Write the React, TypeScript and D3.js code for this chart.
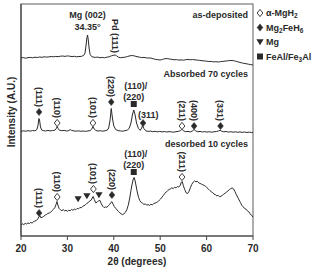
import React from 'react';
import * as d3 from 'd3';

// XRD patterns, [2theta, intensity A.U.]
const asDeposited: [number, number][] = [
  [20, 178], [20.5, 178.4], [21, 177.8], [21.5, 178.3], [22, 178.6], [22.5, 178.2], [23, 178.8], [23.5, 178.5],
  [24, 179], [24.5, 178.7], [25, 179.2], [25.5, 178.9], [26, 179.1], [26.5, 179.5], [27, 179.2], [27.5, 179.6],
  [28, 179.3], [28.5, 179.8], [29, 180], [29.5, 179.6], [30, 180.1], [30.5, 179.8], [31, 179.4], [31.5, 179.7],
  [32, 179.2], [32.5, 179.5], [33, 179.6], [33.5, 180.5], [33.8, 183], [34.0, 190], [34.2, 198], [34.35, 201],
  [34.5, 196], [34.7, 187], [34.9, 181.5], [35.2, 179.5], [35.5, 179], [36, 178.6], [36.5, 178.9], [37, 178.3],
  [37.5, 178.6], [38, 178.2], [38.5, 178.8], [39, 179.2], [39.5, 180.2], [40, 180.8], [40.3, 181], [40.6, 180.2],
  [41, 178.8], [41.5, 178.3], [42, 178.6], [42.5, 178.9], [43, 179.6], [43.5, 180.2], [44, 180.5], [44.5, 180],
  [45, 179.3], [45.5, 178.9], [46, 178.4], [46.5, 178.6], [47, 178.1], [47.5, 178], [48, 178], [48.5, 177.2],
  [49, 176.6], [49.5, 176.3], [50, 176], [50.5, 176.6], [51, 177.3], [51.5, 177.4], [52, 177], [52.5, 176.6],
  [53, 176.2], [53.5, 176.4], [54, 175.9], [54.5, 176.1], [55, 175.8], [55.5, 176.3], [56, 176.6], [56.5, 176.2],
  [57, 176.5], [57.5, 176.1], [58, 175.9], [58.5, 175.6], [59, 175.3], [59.5, 175.1], [60, 174.8], [60.5, 174.5],
  [61, 174.6], [61.5, 174.1], [62, 174.3], [62.5, 174], [63, 174.4], [63.5, 174.6], [64, 174.9], [64.5, 175.2],
  [65, 175.4], [65.5, 175.6], [66, 175.1], [66.5, 174.5], [67, 173.8], [67.5, 173.2], [68, 172.7], [68.5, 172.3],
  [69, 171.8], [69.5, 171.4], [70, 171],
];

const absorbed70: [number, number][] = [
  [20, 104.6], [20.5, 105.2], [21, 104.8], [21.5, 105.3], [22, 104.9], [22.5, 105.5], [23, 105.2], [23.4, 106.3],
  [23.65, 110], [23.85, 117.5], [24.0, 116], [24.2, 109], [24.45, 106], [24.8, 105.4], [25.3, 105], [25.8, 105.6],
  [26.3, 105.1], [26.8, 105.4], [27.3, 105.8], [27.6, 107.5], [27.8, 109.5], [28.0, 107.6], [28.3, 105.7], [28.8, 105.3],
  [29.3, 105.6], [29.8, 105], [30.3, 105.4], [30.6, 106.4], [30.9, 105.6], [31.4, 105.1], [31.9, 104.8], [32.4, 105.2],
  [32.9, 104.7], [33.4, 105], [33.9, 104.6], [34.4, 105.1], [34.9, 105.4], [35.2, 106.6], [35.5, 109.3], [35.8, 107],
  [36.1, 105.5], [36.6, 105], [37.1, 105.3], [37.6, 104.8], [38.1, 105.2], [38.6, 105.9], [38.9, 108], [39.2, 116],
  [39.45, 127.5], [39.7, 118], [40.0, 110], [40.4, 106.5], [40.9, 105.4], [41.4, 105.1], [41.9, 104.8], [42.4, 105.3],
  [42.9, 105.9], [43.3, 107.5], [43.7, 113], [44.0, 121], [44.3, 126], [44.6, 121], [44.9, 113], [45.3, 107.5],
  [45.7, 105.6], [46.0, 108], [46.2, 110.5], [46.5, 107.3], [46.9, 105.2], [47.4, 104.6], [47.9, 104.9], [48.4, 104.3],
  [48.9, 104.7], [49.4, 104.2], [49.9, 104.6], [50.4, 104.1], [50.9, 104.5], [51.4, 104], [51.9, 104.4], [52.4, 104.1],
  [52.9, 103.8], [53.4, 104.3], [53.9, 104.6], [54.4, 105.4], [54.7, 106.8], [55.0, 105.2], [55.5, 104.3], [56, 104.6],
  [56.5, 104.1], [57.0, 105.2], [57.3, 106.5], [57.6, 105.3], [58.1, 104.2], [58.6, 104.6], [59.1, 104], [59.6, 104.4],
  [60.1, 103.9], [60.6, 104.3], [61.1, 103.8], [61.6, 104.2], [62.1, 104.5], [62.6, 105.1], [62.9, 105.8], [63.2, 104.9],
  [63.7, 104.2], [64.2, 104.5], [64.7, 103.9], [65.2, 104.3], [65.7, 103.8], [66.2, 104.2], [66.7, 103.7], [67.2, 104.1],
  [67.7, 103.6], [68.2, 104], [68.7, 103.5], [69.2, 103.9], [69.7, 103.4], [70, 103.8],
];

const desorbed10: [number, number][] = [
  [20.0, 11], [20.3, 12.2], [20.6, 11.4], [20.9, 12.6], [21.2, 12], [21.5, 13.1], [21.8, 12.4], [22.1, 13.6],
  [22.4, 13], [22.7, 14.3], [23.0, 14.9], [23.3, 15.6], [23.6, 16.8], [23.9, 19.5], [24.1, 20.4], [24.3, 18.2],
  [24.6, 18.8], [24.9, 19.6], [25.2, 20.9], [25.5, 21.5], [25.8, 22.6], [26.1, 22.9], [26.4, 23.8], [26.7, 25.4],
  [27.0, 26.7], [27.3, 28.4], [27.55, 31.5], [27.75, 34.5], [27.95, 31], [28.2, 27.6], [28.5, 26.2], [28.8, 25.3],
  [29.1, 26.4], [29.4, 25.1], [29.7, 25.8], [30.0, 24.6], [30.3, 25.9], [30.6, 25.2], [30.9, 26.6], [31.2, 25.7],
  [31.5, 26.9], [31.8, 26.2], [32.1, 27.6], [32.4, 27.1], [32.7, 28.6], [33.0, 28.2], [33.3, 29.7], [33.6, 30.4],
  [33.9, 31.2], [34.2, 32.6], [34.5, 33.4], [34.8, 35.1], [35.1, 35.8], [35.35, 38], [35.55, 39.5], [35.8, 36.5],
  [36.1, 33.2], [36.4, 33.8], [36.7, 35.2], [37.0, 35.6], [37.3, 32.4], [37.6, 29.8], [37.9, 28.4], [38.2, 29.1],
  [38.5, 28.6], [38.8, 30.2], [39.1, 31.5], [39.4, 33.6], [39.6, 34.3], [39.85, 31.8], [40.1, 29.5], [40.4, 27.8],
  [40.7, 26.1], [41.0, 24.5], [41.3, 23.2], [41.6, 22.1], [41.9, 21.4], [42.2, 22.3], [42.5, 23.6], [42.8, 26.2],
  [43.1, 30.5], [43.4, 37], [43.7, 45.5], [43.95, 52], [44.2, 57], [44.4, 58.5], [44.6, 55], [44.85, 49],
  [45.1, 43], [45.35, 38.5], [45.6, 35.4], [45.9, 33.6], [46.2, 32.8], [46.5, 31.5], [46.8, 32.2], [47.1, 30.8],
  [47.4, 31.4], [47.7, 30.6], [48.0, 31.7], [48.3, 31.1], [48.6, 32.4], [48.9, 32.9], [49.2, 33.5], [49.5, 34.3],
  [49.8, 35.8], [50.1, 37.1], [50.4, 38.9], [50.7, 40.6], [51.0, 42.7], [51.3, 44.1], [51.6, 45.2], [51.9, 46.5],
  [52.2, 47.1], [52.5, 48.2], [52.8, 47.4], [53.1, 48.8], [53.4, 48.1], [53.7, 49.5], [54.0, 48.9], [54.3, 50.6],
  [54.55, 53.8], [54.75, 54.5], [55.0, 50.2], [55.3, 46.3], [55.6, 43.1], [55.9, 42.4], [56.2, 44.6], [56.5, 48.2],
  [56.8, 51.6], [57.1, 53.8], [57.4, 55.1], [57.7, 54.2], [58.0, 54.8], [58.3, 53.1], [58.6, 52.6], [58.9, 51.8],
  [59.2, 51.2], [59.5, 50.5], [59.8, 49.7], [60.1, 48.2], [60.4, 46.9], [60.7, 45.5], [61.0, 44.2], [61.3, 43.5],
  [61.6, 41.8], [61.9, 41.3], [62.2, 40.1], [62.5, 40.7], [62.8, 39.2], [63.1, 39.8], [63.4, 40.6], [63.7, 41.9],
  [64.0, 42.8], [64.3, 43.9], [64.6, 45.1], [64.9, 46.3], [65.2, 47.4], [65.5, 48.1], [65.8, 47.2], [66.1, 44.6],
  [66.4, 41.5], [66.7, 38.7], [67.0, 36.1], [67.3, 33.4], [67.6, 30.6], [67.9, 29.2], [68.2, 27.5], [68.5, 26.8],
  [68.8, 25.1], [69.1, 24.2], [69.4, 22.1], [69.7, 20.6], [70.0, 18.9],
];

// peak markers: phase = od (a-MgH2), fd (Mg2FeH6), tri (Mg), sq (FeAl/Fe3Al)
const absorbedPeaks = ['(111)', '(110)', '(101)', '(220)', '(110)/(220)', '(311)', '(211)', '(400)', '(331)'];
const absorbedAngles = [23.9, 27.8, 35.5, 39.45, 44.3, 46.3, 54.7, 57.3, 63.0];
const absorbedMarkI = [124, 113, 113, 134, 132, 113, 110, 110, 110];
const absorbedPhase = ['fd', 'od', 'od', 'fd', 'sq', 'fd', 'od', 'fd', 'fd'];

const desorbedPeaks = ['(111)', '(110)', '', '', '(101)', '', '(220)', '(110)/(220)', '(211)'];
const desorbedAngles = [23.9, 27.8, 32.3, 34.2, 35.6, 36.8, 39.6, 44.3, 54.7];
const desorbedMarkI = [23, 39, 37, 40, 47, 41, 41, 64, 59];
const desorbedPhase = ['fd', 'od', 'tri', 'tri', 'od', 'tri', 'fd', 'sq', 'od'];

const xTicks = [20, 30, 40, 50, 60, 70];

const W = 313, H = 267;
const FONT = '"Liberation Sans", Arial, sans-serif';
const INK = '#2a2a2a';

const x = d3.scaleLinear().domain([20, 70]).range([21, 253]);
const y = d3.scaleLinear().domain([0, 232]).range([236, 4]);
const lineGen = d3.line<[number, number]>().x(d => x(d[0])).y(d => y(d[1]));

function Marker({ kind, cx, cy }: { kind: string; cx: number; cy: number }) {
  if (kind === 'od' || kind === 'fd') {
    const r = 3.6;
    return (
      <path d={`M${cx},${cy - r}L${cx + r * 0.8},${cy}L${cx},${cy + r}L${cx - r * 0.8},${cy}Z`}
        fill={kind === 'od' ? '#fff' : INK} stroke={INK} strokeWidth={kind === 'od' ? 0.9 : 0.5} />
    );
  }
  if (kind === 'tri') {
    return <path d={`M${cx - 3.6},${cy - 2.8}L${cx + 3.6},${cy - 2.8}L${cx},${cy + 3.2}Z`} fill={INK} />;
  }
  return <rect x={cx - 3} y={cy - 3} width={6} height={6} fill={INK} />;
}

function PeakLabels({ labels, angles, marks, phases }: { labels: string[]; angles: number[]; marks: number[]; phases: string[] }) {
  return (
    <g>
      {labels.map((lab, i) => {
        const cx = x(angles[i]);
        const cy = y(marks[i]);
        let text: React.ReactNode = null;
        if (lab.includes('/')) {
          const [a, b] = lab.split('/');
          text = (
            <g textAnchor="middle">
              <text x={cx + 2} y={cy - 15.5}>{a + '/'}</text>
              <text x={cx} y={cy - 4.5}>{b}</text>
            </g>
          );
        } else if (lab === '(311)') {
          text = <text x={cx - 5} y={cy - 5}>{lab}</text>;
        } else if (lab) {
          text = (
            <text transform={`translate(${cx},${cy - 5}) rotate(90)`} textAnchor="end" dy="0.35em">{lab}</text>
          );
        }
        return (
          <g key={i}>
            {text}
            <Marker kind={phases[i]} cx={cx} cy={cy} />
          </g>
        );
      })}
    </g>
  );
}

export default function App() {
  const legend = [
    { kind: 'od', label: <tspan>α-MgH<tspan fontSize="6.5" dy="2">2</tspan></tspan> },
    { kind: 'fd', label: <tspan>Mg<tspan fontSize="6.5" dy="2">2</tspan><tspan dy="-2">FeH</tspan><tspan fontSize="6.5" dy="2">6</tspan></tspan> },
    { kind: 'tri', label: <tspan>Mg</tspan> },
    { kind: 'sq', label: <tspan>FeAl/Fe<tspan fontSize="6.5" dy="2">3</tspan><tspan dy="-2">Al</tspan></tspan> },
  ];
  return (
    <svg width={W} height={H} style={{ position: 'absolute', left: 0, top: 0, background: '#fff' }}
      fontFamily={FONT} fontWeight="bold" fontSize={9} fill={INK}>
      {/* frame */}
      <rect x={21} y={4} width={232} height={232} fill="none" stroke="#777" strokeWidth={1.2} />
      <line x1={21} y1={4} x2={21} y2={236} stroke="#444" strokeWidth={1.2} />
      <line x1={21} y1={236} x2={253} y2={236} stroke="#444" strokeWidth={1.2} />

      {/* x axis */}
      {xTicks.map(t => (
        <g key={t}>
          <line x1={x(t)} x2={x(t)} y1={236} y2={240} stroke="#444" strokeWidth={1} />
          <text x={x(t)} y={252} textAnchor="middle" fontSize={10}>{t}</text>
        </g>
      ))}
      <text x={137} y={265} textAnchor="middle" fontSize={10}>2θ (degrees)</text>
      <text transform="translate(15,112) rotate(-90)" textAnchor="middle" fontSize={10}>Intensity (A.U.)</text>

      {/* patterns */}
      {[asDeposited, absorbed70, desorbed10].map((s, i) => (
        <path key={i} d={lineGen(s) || ''} fill="none" stroke={INK} strokeWidth={1} strokeLinejoin="round" />
      ))}

      {/* section labels */}
      <g textAnchor="end">
        <text x={248} y={18}>as-deposited</text>
        <text x={248} y={76.5}>Absorbed 70 cycles</text>
        <text x={248} y={146.5}>desorbed 10 cycles</text>
      </g>

      {/* as-deposited peaks */}
      <text x={x(34.35)} y={17.5} textAnchor="middle">Mg (002)</text>
      <text x={x(34.35)} y={30} textAnchor="middle">34.35°</text>
      <text transform={`translate(${x(40.2)},${y(183)}) rotate(90)`} textAnchor="end" dy="0.35em">Pd (111)</text>

      <PeakLabels labels={absorbedPeaks} angles={absorbedAngles} marks={absorbedMarkI} phases={absorbedPhase} />
      <PeakLabels labels={desorbedPeaks} angles={desorbedAngles} marks={desorbedMarkI} phases={desorbedPhase} />

      {/* legend */}
      {legend.map((l, i) => (
        <g key={i}>
          <Marker kind={l.kind} cx={260} cy={13 + i * 14.5} />
          <text x={266} y={16 + i * 14.5}>{l.label}</text>
        </g>
      ))}
    </svg>
  );
}
